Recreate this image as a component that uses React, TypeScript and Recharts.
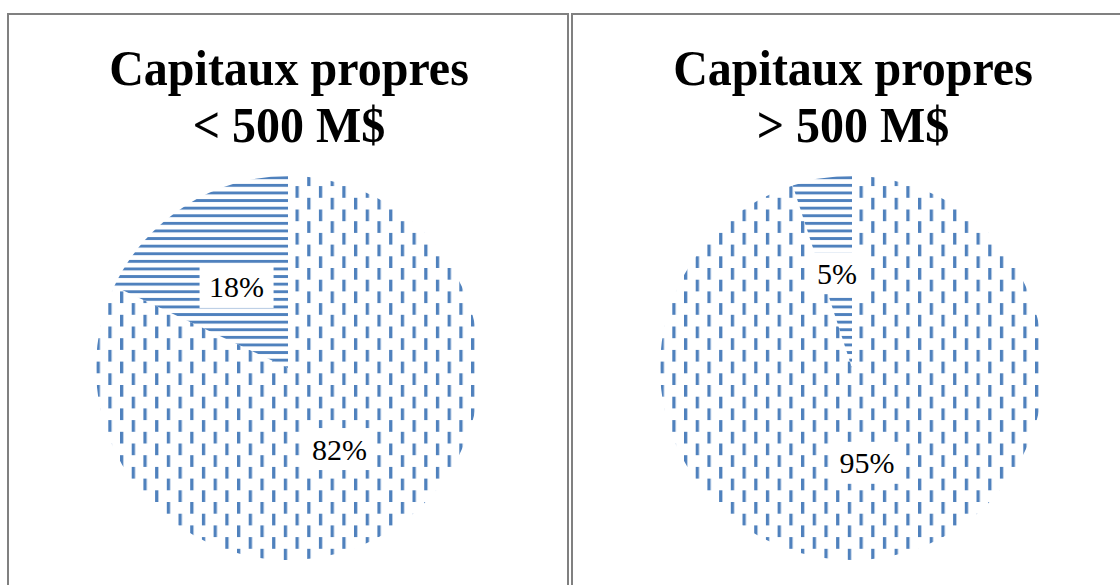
import { PieChart, Pie, Cell } from "recharts";

const categories = ["Segment A", "Segment B"];
const smallEquityShares = [18, 82];
const largeEquityShares = [5, 95];
const titleLine = "Capitaux propres";
const panelSubtitles = ["< 500 M$", "> 500 M$"];

const BLUE = "#4F81BD";
const RADIAN = Math.PI / 180;
const SERIF = "'Liberation Serif', 'Times New Roman', serif";

const renderLabel = (props: any) => {
  const { cx, cy, midAngle, outerRadius, value } = props;
  const r = outerRadius * 0.5;
  const x = cx + r * Math.cos(-midAngle * RADIAN);
  const y = cy + r * Math.sin(-midAngle * RADIAN);
  const text = `${value}%`;
  const w = text.length * 18 + 20;
  return (
    <g>
      <rect x={x - w / 2} y={y - 21} width={w} height={42} fill="#fff" />
      <text x={x} y={y} textAnchor="middle" dominantBaseline="central" fontFamily={SERIF} fontSize={30} fill="#000">
        {text}
      </text>
    </g>
  );
};

function EquityPie({ id, values, left }: { id: string; values: number[]; left: number }) {
  const data = categories.map((name, i) => ({ name, value: values[i] }));
  return (
    <div style={{ position: "absolute", left, top: 0, width: 560, height: 585 }}>
      <PieChart width={560} height={585} margin={{ top: 0, right: 0, bottom: 0, left: 0 }}>
        <defs>
          <pattern id={`hl-${id}`} patternUnits="userSpaceOnUse" x="0" y="1.5" width="8" height="7.6">
            <rect x="0" y="0" width="8" height="2.9" fill={BLUE} />
          </pattern>
          <pattern id={`vd-${id}`} patternUnits="userSpaceOnUse" x="3" y="10.6" width="23.4" height="23.4">
            <rect x="0" y="0" width="3.3" height="11.7" fill={BLUE} />
            <rect x="11.7" y="11.7" width="3.3" height="11.7" fill={BLUE} />
          </pattern>
        </defs>
        <Pie
          data={data}
          dataKey="value"
          nameKey="name"
          cx={288}
          cy={368}
          outerRadius={192}
          startAngle={90}
          endAngle={450}
          stroke="none"
          labelLine={false}
          label={renderLabel}
          isAnimationActive={false}
        >
          {data.map((d, i) => (
            <Cell key={d.name} fill={i === 0 ? `url(#hl-${id})` : `url(#vd-${id})`} />
          ))}
        </Pie>
      </PieChart>
    </div>
  );
}

function Title({ center, subtitle }: { center: number; subtitle: string }) {
  return (
    <div
      style={{
        position: "absolute",
        left: center - 260,
        top: 39,
        width: 520,
        textAlign: "center",
        fontFamily: SERIF,
        fontWeight: "bold",
        fontSize: 48,
        lineHeight: "53px",
        color: "#000",
        transform: "scaleY(1.07)",
        transformOrigin: "top center",
      }}
    >
      <div>{titleLine}</div>
      <div>{subtitle}</div>
    </div>
  );
}

export default function App() {
  const border = "2px solid #808080";
  return (
    <div style={{ position: "absolute", left: 0, top: 0, width: 1120, height: 585, overflow: "hidden", background: "#fff" }}>
      <div style={{ position: "absolute", left: 7, top: 13, width: 562, height: 700, border, boxSizing: "border-box" }} />
      <div style={{ position: "absolute", left: 571, top: 13, width: 600, height: 700, border, boxSizing: "border-box" }} />
      <EquityPie id="small" values={smallEquityShares} left={0} />
      <EquityPie id="large" values={largeEquityShares} left={564} />
      <Title center={289} subtitle={panelSubtitles[0]} />
      <Title center={853} subtitle={panelSubtitles[1]} />
    </div>
  );
}
